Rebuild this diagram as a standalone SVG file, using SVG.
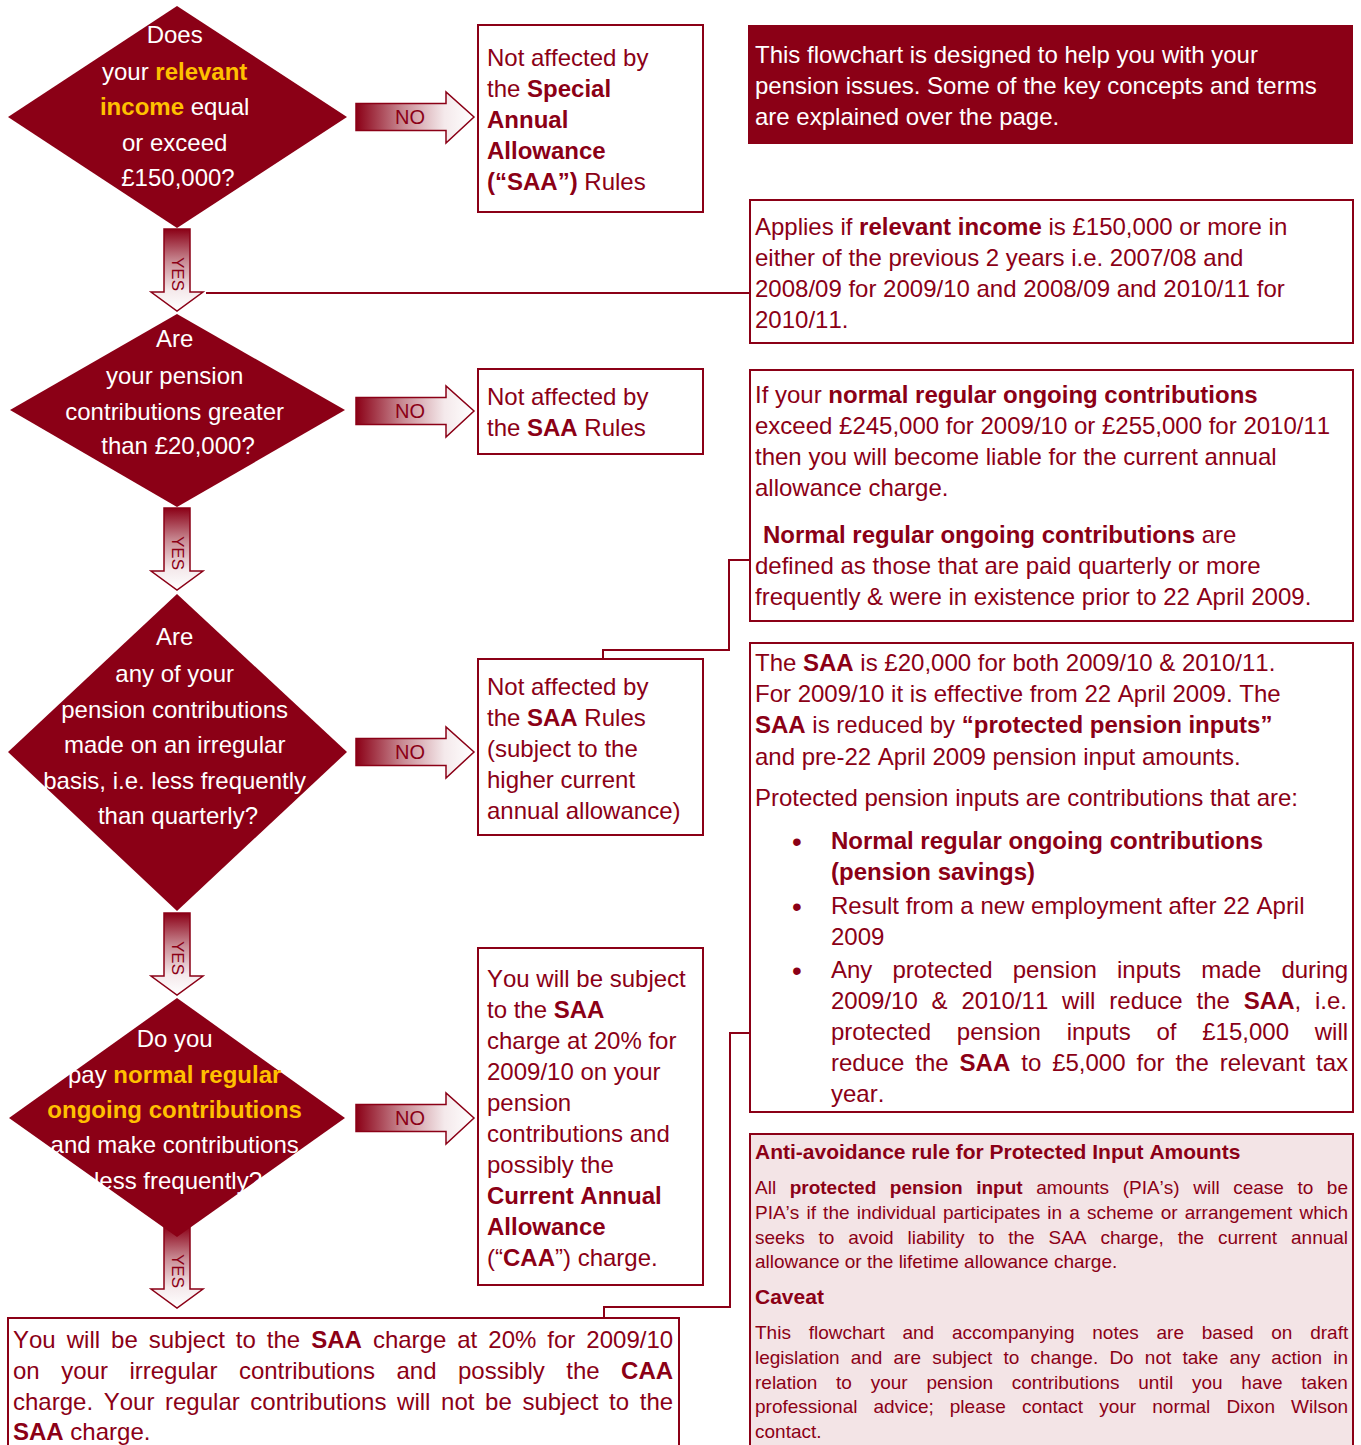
<svg xmlns="http://www.w3.org/2000/svg" width="1361" height="1445" viewBox="0 0 1361 1445">
<defs>
<linearGradient id="gNo" x1="0" y1="0" x2="1" y2="0">
<stop offset="0" stop-color="#8B0016"/>
<stop offset="0.4" stop-color="#C98C95"/>
<stop offset="0.75" stop-color="#F4E9EB"/>
<stop offset="1" stop-color="#FFFFFF"/>
</linearGradient>
<linearGradient id="gYes" x1="0" y1="0" x2="0" y2="1">
<stop offset="0" stop-color="#8B0016"/>
<stop offset="0.4" stop-color="#C98C95"/>
<stop offset="0.75" stop-color="#F4E9EB"/>
<stop offset="1" stop-color="#FFFFFF"/>
</linearGradient>
<path id="noA" d="M0,-13.5 H90 V-25 L118,0 L90,26 V13.5 H0 Z"/>
<path id="yesA" d="M-13,0 H13 V63 H26 L0,82 L-26,63 H-13 Z"/>
<style>
text{font-family:"Liberation Sans",Arial,sans-serif;font-kerning:none}
.t{font-size:24px;fill:#8B0016}
.w{font-size:24px;fill:#FFFFFF}
.b{font-weight:bold}
.y{fill:#FFC000;font-weight:bold}
.s{font-size:19px;fill:#8B0016}
.box{fill:#FFFFFF;stroke:#8B0016;stroke-width:2}
.pink{fill:#F3E4E6;stroke:#8B0016;stroke-width:2}
.dia{fill:#8B0016}
.conn{fill:none;stroke:#8B0016;stroke-width:2}
.no{fill:url(#gNo);stroke:#8B0016;stroke-width:1.5}
.yes{fill:url(#gYes);stroke:#8B0016;stroke-width:1.5}
.lbl{font-size:20px;fill:#8B0016}
.ylbl{font-size:17px;fill:#8B0016}
</style>
</defs>
<rect x="0" y="0" width="1361" height="1445" fill="#FFFFFF"/>

<g id="connectors">
<path class="conn" d="M206,293 H750"/>
<path class="conn" d="M750,560 H729 V650 H603 V660"/>
<path class="conn" d="M750,1033 H730 V1307 H604 V1318"/>
<use href="#noA" class="no" transform="translate(356,117)"/>
<text class="lbl" x="410" y="124" text-anchor="middle">NO</text>
<use href="#noA" class="no" transform="translate(356,411)"/>
<text class="lbl" x="410" y="418" text-anchor="middle">NO</text>
<use href="#noA" class="no" transform="translate(356,752)"/>
<text class="lbl" x="410" y="759" text-anchor="middle">NO</text>
<use href="#noA" class="no" transform="translate(356,1118)"/>
<text class="lbl" x="410" y="1125" text-anchor="middle">NO</text>
<use href="#yesA" class="yes" transform="translate(177,229)"/>
<text class="ylbl" transform="translate(177,274) rotate(90)" text-anchor="middle" dominant-baseline="central">YES</text>
<use href="#yesA" class="yes" transform="translate(177,508)"/>
<text class="ylbl" transform="translate(177,553) rotate(90)" text-anchor="middle" dominant-baseline="central">YES</text>
<use href="#yesA" class="yes" transform="translate(177,913)"/>
<text class="ylbl" transform="translate(177,958) rotate(90)" text-anchor="middle" dominant-baseline="central">YES</text>
<use href="#yesA" class="yes" transform="translate(177,1226)"/>
<text class="ylbl" transform="translate(177,1271) rotate(90)" text-anchor="middle" dominant-baseline="central">YES</text>
</g>

<g id="q1">
<polygon class="dia" points="177,6 347,117 177,228 8,117"/>
<text class="w" text-anchor="middle">
<tspan x="178" y="43">Does</tspan>
<tspan x="178" y="80">your <tspan class="y">relevant</tspan></tspan>
<tspan x="178" y="115"><tspan class="y">income</tspan> equal</tspan>
<tspan x="178" y="151">or exceed</tspan>
<tspan x="178" y="186">£150,000?</tspan>
</text>
</g>

<g id="q2">
<polygon class="dia" points="177,314 345,410 177,507 10,410"/>
<text class="w" text-anchor="middle">
<tspan x="178" y="347">Are</tspan>
<tspan x="178" y="384">your pension</tspan>
<tspan x="178" y="420">contributions greater</tspan>
<tspan x="178" y="454">than £20,000?</tspan>
</text>
</g>

<g id="q3">
<polygon class="dia" points="177,594 347,752 177,911 8,752"/>
<text class="w" text-anchor="middle">
<tspan x="178" y="645">Are</tspan>
<tspan x="178" y="682">any of your</tspan>
<tspan x="178" y="718">pension contributions</tspan>
<tspan x="178" y="753">made on an irregular</tspan>
<tspan x="178" y="789">basis, i.e. less frequently</tspan>
<tspan x="178" y="824">than quarterly?</tspan>
</text>
</g>

<g id="q4">
<polygon class="dia" points="177,998 345,1118 177,1237 9,1118"/>
<text class="w" text-anchor="middle">
<tspan x="178" y="1047">Do you</tspan>
<tspan x="178" y="1083">pay <tspan class="y">normal regular</tspan></tspan>
<tspan x="178" y="1118" class="y">ongoing contributions</tspan>
<tspan x="178" y="1153">and make contributions</tspan>
<tspan x="178" y="1189">less frequently?</tspan>
</text>
</g>

<g id="r1">
<rect class="box" x="478" y="25" width="225" height="187"/>
<text class="t">
<tspan x="487" y="66">Not affected by</tspan>
<tspan x="487" y="97">the <tspan class="b">Special</tspan></tspan>
<tspan x="487" y="128" class="b">Annual</tspan>
<tspan x="487" y="159" class="b">Allowance</tspan>
<tspan x="487" y="190"><tspan class="b">(“SAA”)</tspan> Rules</tspan>
</text>
</g>

<g id="r2">
<rect class="box" x="478" y="369" width="225" height="85"/>
<text class="t">
<tspan x="487" y="405">Not affected by</tspan>
<tspan x="487" y="436">the <tspan class="b">SAA</tspan> Rules</tspan>
</text>
</g>

<g id="r3">
<rect class="box" x="478" y="659" width="225" height="176"/>
<text class="t">
<tspan x="487" y="695">Not affected by</tspan>
<tspan x="487" y="726">the <tspan class="b">SAA</tspan> Rules</tspan>
<tspan x="487" y="757">(subject to the</tspan>
<tspan x="487" y="788">higher current</tspan>
<tspan x="487" y="819">annual allowance)</tspan>
</text>
</g>

<g id="r4">
<rect class="box" x="478" y="948" width="225" height="337"/>
<text class="t">
<tspan x="487" y="987">You will be subject</tspan>
<tspan x="487" y="1018">to the <tspan class="b">SAA</tspan></tspan>
<tspan x="487" y="1049">charge at 20% for</tspan>
<tspan x="487" y="1080">2009/10 on your</tspan>
<tspan x="487" y="1111">pension</tspan>
<tspan x="487" y="1142">contributions and</tspan>
<tspan x="487" y="1173">possibly the</tspan>
<tspan x="487" y="1204" class="b">Current Annual</tspan>
<tspan x="487" y="1235" class="b">Allowance</tspan>
<tspan x="487" y="1266">(“<tspan class="b">CAA</tspan>”) charge.</tspan>
</text>
</g>

<g id="r5">
<rect class="box" x="8" y="1318" width="671" height="140"/>
<text class="t" x="13" y="1348" style="word-spacing:4.34px">You will be subject to the <tspan class="b">SAA</tspan> charge at 20% for 2009/10</text>
<text class="t" x="13" y="1379" style="word-spacing:14.83px">on your irregular contributions and possibly the <tspan class="b">CAA</tspan></text>
<text class="t" x="13" y="1410" style="word-spacing:3.97px">charge. Your regular contributions will not be subject to the</text>
<text class="t" x="13" y="1440"><tspan class="b">SAA</tspan> charge.</text>
</g>

<g id="intro">
<rect x="748" y="25" width="605" height="119" fill="#8B0016"/>
<text class="w">
<tspan x="755" y="63">This flowchart is designed to help you with your</tspan>
<tspan x="755" y="94">pension issues.  Some of the key concepts and terms</tspan>
<tspan x="755" y="125">are explained over the page.</tspan>
</text>
</g>

<g id="n1">
<rect class="box" x="750" y="200" width="603" height="143"/>
<text class="t">
<tspan x="755" y="235">Applies if <tspan class="b">relevant income</tspan> is £150,000 or more in</tspan>
<tspan x="755" y="266">either of the previous 2 years i.e. 2007/08 and</tspan>
<tspan x="755" y="297">2008/09 for 2009/10 and 2008/09 and 2010/11 for</tspan>
<tspan x="755" y="328">2010/11.</tspan>
</text>
</g>

<g id="n2">
<rect class="box" x="750" y="370" width="603" height="251"/>
<text class="t">
<tspan x="755" y="403">If your <tspan class="b">normal regular ongoing contributions</tspan></tspan>
<tspan x="755" y="434">exceed £245,000 for 2009/10 or £255,000 for 2010/11</tspan>
<tspan x="755" y="465">then you will become liable for the current annual</tspan>
<tspan x="755" y="496">allowance charge.</tspan>
<tspan x="763" y="543"><tspan class="b">Normal regular ongoing contributions</tspan> are</tspan>
<tspan x="755" y="574">defined as those that are paid quarterly or more</tspan>
<tspan x="755" y="605">frequently &amp; were in existence prior to 22 April 2009.</tspan>
</text>
</g>

<g id="n3">
<rect class="box" x="750" y="643" width="603" height="469"/>
<text class="t">
<tspan x="755" y="671">The <tspan class="b">SAA</tspan> is £20,000 for both 2009/10 &amp; 2010/11.</tspan>
<tspan x="755" y="702">For 2009/10 it is effective from 22 April 2009.  The</tspan>
<tspan x="755" y="733"><tspan class="b">SAA</tspan> is reduced by <tspan class="b">“protected pension inputs”</tspan></tspan>
<tspan x="755" y="765">and pre-22 April 2009 pension input amounts.</tspan>
<tspan x="755" y="806">Protected pension inputs are contributions that are:</tspan>
</text>
<text class="t" style="font-size:28px">
<tspan x="792" y="851">•</tspan>
<tspan x="792" y="916">•</tspan>
<tspan x="792" y="980">•</tspan>
</text>
<text class="t b">
<tspan x="831" y="849">Normal regular ongoing contributions</tspan>
<tspan x="831" y="880">(pension savings)</tspan>
</text>
<text class="t">
<tspan x="831" y="914">Result from a new employment after 22 April</tspan>
<tspan x="831" y="945">2009</tspan>
</text>
<text class="t" x="831" y="978" style="word-spacing:13.5px">Any protected pension inputs made during</text>
<text class="t" x="831" y="1009" style="word-spacing:7.2px">2009/10 &amp; 2010/11 will reduce the <tspan class="b">SAA</tspan>, i.e.</text>
<text class="t" x="831" y="1040" style="word-spacing:19.1px">protected pension inputs of £15,000 will</text>
<text class="t" x="831" y="1071" style="word-spacing:4.26px">reduce the <tspan class="b">SAA</tspan> to £5,000 for the relevant tax</text>
<text class="t" x="831" y="1102">year.</text>
</g>

<g id="n4">
<rect class="pink" x="750" y="1134" width="603" height="330"/>
<text class="s b" x="755" y="1159" style="font-size:21px">Anti-avoidance rule for Protected Input Amounts</text>
<text class="s" x="755" y="1194" style="word-spacing:8.29px">All <tspan class="b">protected pension input</tspan> amounts (PIA’s) will cease to be</text>
<text class="s" x="755" y="1219" style="word-spacing:1.86px">PIA’s if the individual participates in a scheme or arrangement which</text>
<text class="s" x="755" y="1244" style="word-spacing:8.61px">seeks to avoid liability to the SAA charge, the current annual</text>
<text class="s" x="755" y="1268">allowance or the lifetime allowance charge.</text>
<text class="s b" x="755" y="1304" style="font-size:21px">Caveat</text>
<text class="s" x="755" y="1339" style="word-spacing:12.5px">This flowchart and accompanying notes are based on draft</text>
<text class="s" x="755" y="1364" style="word-spacing:5.9px">legislation and are subject to change. Do not take any action in</text>
<text class="s" x="755" y="1389" style="word-spacing:13.5px">relation to your pension contributions until you have taken</text>
<text class="s" x="755" y="1413" style="word-spacing:10.8px">professional advice; please contact your normal Dixon Wilson</text>
<text class="s" x="755" y="1438">contact.</text>
</g>
</svg>
